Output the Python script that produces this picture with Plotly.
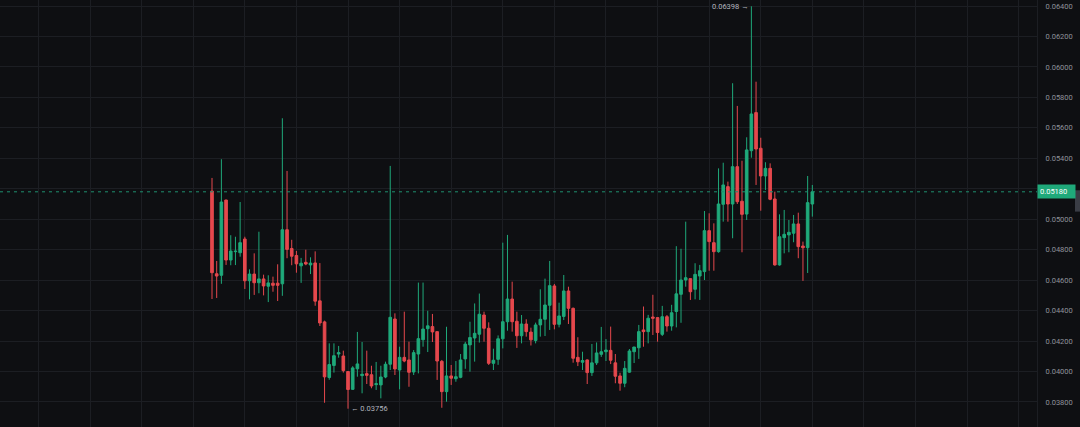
import plotly.graph_objects as go

opens = [0.05185,0.04642,0.04632,0.05126,0.04732,0.04787,0.04780,0.04870,0.04596,0.04640,
         0.04583,0.04608,0.04560,0.04580,0.04580,0.04576,0.04931,0.04808,0.04762,0.04694,
         0.04717,0.04700,0.04713,0.04464,0.04326,0.03961,0.04040,0.04115,0.04102,0.04000,
         0.03883,0.04018,0.03973,0.03986,0.03979,0.03914,0.03912,0.03964,0.04048,0.04345,
         0.04010,0.04093,0.04076,0.03997,0.04115,0.04209,0.04281,0.04295,0.04262,0.04067,
         0.03868,0.03971,0.03953,0.03962,0.04083,0.04175,0.04220,0.04245,0.04371,0.04284,
         0.04054,0.04080,0.04215,0.04327,0.04476,0.04330,0.04235,0.04312,0.04259,0.04204,
         0.04306,0.04343,0.04435,0.04562,0.04310,0.04362,0.04529,0.04415,0.04093,0.04061,
         0.04076,0.03993,0.04057,0.04113,0.04130,0.04139,0.04057,0.03971,0.03923,0.03996,
         0.04130,0.04156,0.04273,0.04262,0.04358,0.04354,0.04244,0.04360,0.04299,0.04394,
         0.04507,0.04601,0.04610,0.04540,0.04627,0.04656,0.04925,0.04846,0.04787,0.05098,
         0.05214,0.05100,0.05345,0.05118,0.05034,0.05450,0.05700,0.05466,0.05284,0.05334,
         0.05133,0.04700,0.04879,0.04897,0.04908,0.04969,0.04824,0.04813,0.05100]
highs = [0.05271,0.04726,0.05394,0.05128,0.04895,0.04885,0.05113,0.04885,0.04671,0.04776,
         0.04918,0.04636,0.04632,0.04623,0.04704,0.05663,0.05317,0.04865,0.04792,0.04746,
         0.04800,0.04750,0.04789,0.04712,0.04334,0.04185,0.04185,0.04168,0.04137,0.04000,
         0.04035,0.04260,0.04194,0.04137,0.04038,0.04063,0.04038,0.04065,0.05350,0.04382,
         0.04163,0.04393,0.04196,0.04141,0.04584,0.04584,0.04399,0.04378,0.04262,0.04076,
         0.04294,0.04043,0.04069,0.04115,0.04195,0.04327,0.04447,0.04512,0.04393,0.04323,
         0.04150,0.04237,0.04846,0.04897,0.04590,0.04393,0.04371,0.04343,0.04288,0.04321,
         0.04540,0.04610,0.04726,0.04575,0.04452,0.04634,0.04557,0.04420,0.04225,0.04130,
         0.04080,0.04181,0.04191,0.04293,0.04213,0.04295,0.04115,0.03992,0.04069,0.04148,
         0.04161,0.04306,0.04427,0.04372,0.04504,0.04354,0.04431,0.04371,0.04438,0.04823,
         0.04806,0.04984,0.04612,0.04711,0.04700,0.05054,0.05039,0.04973,0.05334,0.05371,
         0.05247,0.05893,0.05744,0.05384,0.05538,0.06398,0.05903,0.05535,0.05374,0.05367,
         0.05181,0.05032,0.05061,0.04995,0.05028,0.05043,0.04853,0.05284,0.05225]
lows = [0.04476,0.04483,0.04576,0.04700,0.04698,0.04699,0.04754,0.04542,0.04474,0.04503,
        0.04514,0.04500,0.04456,0.04524,0.04463,0.04497,0.04744,0.04698,0.04649,0.04582,
        0.04698,0.04640,0.04432,0.04299,0.03795,0.03946,0.03993,0.04091,0.03993,0.03756,
        0.03879,0.03966,0.03857,0.03918,0.03890,0.03879,0.03824,0.03956,0.04010,0.03977,
        0.03883,0.04061,0.03900,0.03977,0.03988,0.04163,0.04128,0.04194,0.03945,0.03762,
        0.03802,0.03912,0.03933,0.03956,0.04018,0.03999,0.04065,0.04190,0.04196,0.04043,
        0.04010,0.04044,0.04152,0.04268,0.04262,0.04155,0.04185,0.04229,0.04171,0.04185,
        0.04229,0.04233,0.04273,0.04277,0.04290,0.04338,0.04312,0.04058,0.04036,0.04010,
        0.03918,0.03971,0.04043,0.04096,0.04069,0.04049,0.03923,0.03874,0.03897,0.03992,
        0.04056,0.04083,0.04163,0.04185,0.04240,0.04196,0.04233,0.04262,0.04268,0.04290,
        0.04320,0.04557,0.04470,0.04474,0.04470,0.04601,0.04662,0.04662,0.04780,0.04984,
        0.04984,0.04875,0.05100,0.04783,0.04995,0.05404,0.05225,0.05056,0.05192,0.05125,
        0.04695,0.04695,0.04776,0.04783,0.04849,0.04744,0.04595,0.04647,0.05017]
closes = [0.04649,0.04627,0.05113,0.04732,0.04791,0.04790,0.04846,0.04596,0.04640,0.04583,
          0.04608,0.04562,0.04582,0.04566,0.04566,0.04931,0.04802,0.04757,0.04707,0.04711,
          0.04706,0.04712,0.04462,0.04319,0.03965,0.04046,0.04104,0.04124,0.04006,0.03882,
          0.04024,0.04050,0.03982,0.03975,0.03905,0.03920,0.03964,0.04048,0.04356,0.04017,
          0.04093,0.04069,0.03995,0.04124,0.04216,0.04279,0.04300,0.04260,0.04069,0.03868,
          0.03971,0.03956,0.03966,0.04076,0.04180,0.04223,0.04251,0.04376,0.04284,0.04054,
          0.04074,0.04215,0.04327,0.04476,0.04327,0.04235,0.04312,0.04262,0.04208,0.04306,
          0.04343,0.04437,0.04564,0.04310,0.04365,0.04529,0.04415,0.04087,0.04064,0.04072,
          0.03993,0.04057,0.04122,0.04130,0.04141,0.04074,0.03969,0.03923,0.04021,0.04135,
          0.04161,0.04262,0.04262,0.04350,0.04350,0.04256,0.04360,0.04299,0.04386,0.04510,
          0.04601,0.04616,0.04524,0.04638,0.04662,0.04925,0.04853,0.04787,0.05100,0.05225,
          0.05100,0.05345,0.05115,0.05032,0.05455,0.05691,0.05461,0.05284,0.05334,0.05131,
          0.04700,0.04885,0.04901,0.04914,0.04969,0.04820,0.04813,0.05109,0.05180]

price_ticks = [0.038, 0.040, 0.042, 0.044, 0.046, 0.048, 0.050, 0.052, 0.054, 0.056, 0.058, 0.060, 0.062, 0.064]
tick_labels = ["0.03800", "0.04000", "0.04200", "0.04400", "0.04600", "0.04800", "0.05000",
               "0.05200", "0.05400", "0.05600", "0.05800", "0.06000", "0.06200", "0.06400"]
last_price = 0.05180
max_price = 0.06398
min_price = 0.03756

x = list(range(len(opens)))
imax = highs.index(max(highs))
imin = lows.index(min(lows))

UP = "#1fa97a"
DOWN = "#e5484d"
BG = "#0e0f12"
GRID = "#1c1e23"

fig = go.Figure(go.Candlestick(
    x=x, open=opens, high=highs, low=lows, close=closes,
    increasing=dict(line=dict(color=UP, width=1), fillcolor=UP),
    decreasing=dict(line=dict(color=DOWN, width=1), fillcolor=DOWN),
    whiskerwidth=0, hoverinfo="skip", showlegend=False,
))

fig.add_shape(type="line", xref="paper", x0=0, x1=1, yref="y", y0=last_price, y1=last_price,
              line=dict(color="#1f8f6e", width=1, dash="3px,4px"))
fig.add_shape(type="rect", xref="paper", x0=1075/1037, x1=1080/1037, yref="y",
              y0=0.0518 - 0.0013, y1=0.0518 + 0.0001, fillcolor="#3a3d45", line=dict(width=0))

fig.add_annotation(x=1, xref="paper", y=last_price, yref="y", xanchor="left", yanchor="middle",
                   text=f"{last_price:.5f}", showarrow=False, bgcolor="#1fa97a",
                   font=dict(color="#ffffff", size=7.5, family="Roboto"), width=33, borderpad=2, align="left")
fig.add_annotation(x=imax, y=max_price, xanchor="right", yanchor="middle", xshift=0,
                   text=f"{max_price:.5f} →", showarrow=False,
                   font=dict(color="#b2b5be", size=7.5, family="Roboto"))
fig.add_annotation(x=imin, y=min_price, xanchor="left", yanchor="middle", xshift=1,
                   text=f"← {min_price:.5f}", showarrow=False,
                   font=dict(color="#b2b5be", size=7.5, family="Roboto"))

fig.update_layout(
    width=1080, height=427,
    margin=dict(l=0, r=43, t=0, b=0),
    paper_bgcolor=BG, plot_bgcolor=BG,
    boxgap=0.2,
    xaxis=dict(range=[-45.2, 175.9], rangeslider=dict(visible=False), showticklabels=False,
               tick0=7, dtick=11, gridcolor=GRID, gridwidth=1, zeroline=False, fixedrange=True),
    yaxis=dict(side="right", range=[0.036358, 0.064394], tickvals=price_ticks, ticktext=tick_labels,
               gridcolor=GRID, gridwidth=1, zeroline=False, showline=True, linecolor=GRID,
               ticks="", ticklabelstandoff=6,
               tickfont=dict(color="#8f929b", size=7.5, family="Roboto")),
)

fig.write_html("out.html", config={"displayModeBar": False},
               post_script="document.body.style.margin='0';document.body.style.padding='0';"
                           "document.body.style.background='#0e0f12';document.body.style.overflow='hidden';")
